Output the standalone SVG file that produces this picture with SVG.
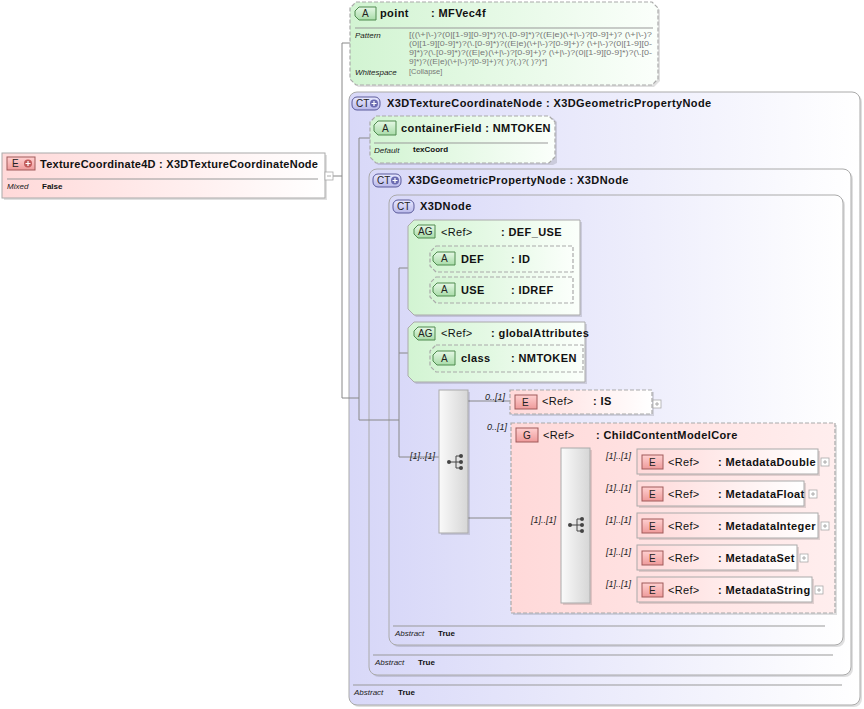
<svg xmlns="http://www.w3.org/2000/svg" width="864" height="709" viewBox="0 0 864 709">
<style>
text{font-family:"Liberation Sans",Arial,sans-serif;fill:#111}
.t{font-size:11px;font-weight:bold;letter-spacing:0.4px}
.r{font-size:11px;font-weight:bold;letter-spacing:0.25px}
.n{font-size:11px;letter-spacing:0.3px}
.k{font-size:8px;font-style:italic;fill:#222}
.v{font-size:8px;font-weight:bold}
.p{font-size:7.5px;fill:#777}
.m{font-size:9px;font-style:italic;fill:#222}
.bt{font-size:10px;fill:#222}
.sep{stroke:#999;stroke-width:1}
.con{fill:none;stroke:#888;stroke-width:1}
.sh{fill:#000;opacity:0.12}
.attr{stroke:#aaa;stroke-width:1.2;stroke-dasharray:4 2}
.ebox{fill:url(#gPink);stroke:#aaa;stroke-width:1}
.eopt{fill:url(#gPink);stroke:#aaa;stroke-width:1.2;stroke-dasharray:4 2}
.bA{fill:url(#gBadgeA);stroke:#4e8a4e;stroke-width:1}
.bE{fill:url(#gBadgeE);stroke:#a05a5a;stroke-width:1}
.bC{fill:url(#gBadgeC);stroke:#5a5a9a;stroke-width:1}
.ct{fill:url(#gLav);stroke:#aaa;stroke-width:1}
.seq{fill:url(#gSeq);stroke:#aaa;stroke-width:1}
.ic{fill:#fff;stroke:#aaa;stroke-width:0.8}
.icl{stroke:#999;stroke-width:0.8}
</style>
<defs>
<linearGradient id="gPink" x1="0" y1="0" x2="1" y2="0"><stop offset="0" stop-color="#ffd9d9"/><stop offset="1" stop-color="#ffffff"/></linearGradient>
<linearGradient id="gGroup" x1="0" y1="0" x2="1" y2="0"><stop offset="0" stop-color="#ffd9d9"/><stop offset="1" stop-color="#ffeeee"/></linearGradient>
<linearGradient id="gGreen" x1="0" y1="0" x2="1" y2="0"><stop offset="0" stop-color="#d2f4d2"/><stop offset="1" stop-color="#fbfffb"/></linearGradient>
<linearGradient id="gLav" x1="0" y1="0" x2="1" y2="0"><stop offset="0" stop-color="#d8d8f8"/><stop offset="1" stop-color="#ffffff"/></linearGradient>
<linearGradient id="gSeq" x1="0" y1="0" x2="1" y2="0"><stop offset="0" stop-color="#fafafa"/><stop offset="1" stop-color="#d6d6d6"/></linearGradient>
<linearGradient id="gBadgeA" x1="0" y1="0" x2="0" y2="1"><stop offset="0" stop-color="#e6f8e6"/><stop offset="1" stop-color="#a8dca8"/></linearGradient>
<linearGradient id="gBadgeE" x1="0" y1="0" x2="0" y2="1"><stop offset="0" stop-color="#ffd0d0"/><stop offset="1" stop-color="#ee9a9a"/></linearGradient>
<linearGradient id="gBadgeC" x1="0" y1="0" x2="0" y2="1"><stop offset="0" stop-color="#e8e8ff"/><stop offset="1" stop-color="#b8b8ea"/></linearGradient>
<g id="plusIcon"><rect class="ic" x="0" y="0" width="8" height="8"/><path class="icl" d="M2 4H6M4 2V6"/></g>
<g id="seqIcon" fill="#444" stroke="#444" stroke-width="1"><circle cx="0" cy="0" r="2" stroke="none"/><path d="M0 0H7M7 -6V6M7 -6H12M7 0H12M7 6H12" fill="none"/><circle cx="12" cy="-6" r="2" stroke="none"/><circle cx="12" cy="0" r="2" stroke="none"/><circle cx="12" cy="6" r="2" stroke="none"/></g>
</defs>

<!-- containers -->
<g id="ct-X3DTextureCoordinateNode">
<rect class="sh" x="351" y="94" width="511" height="613" rx="8"/>
<rect class="ct" x="349" y="92" width="511" height="613" rx="8"/>
<rect class="bC" x="352" y="97" width="28" height="13" rx="5"/>
<text x="356" y="107" class="bt">CT</text>
<circle cx="374" cy="103.5" r="4" fill="#6a6ab0"/><path d="M371.5 103.5H376.5M374 101V106" stroke="#fff" stroke-width="1.2"/>
<text x="387" y="107" class="t">X3DTextureCoordinateNode : X3DGeometricPropertyNode</text>
<line class="sep" x1="353" y1="685" x2="842" y2="685"/>
<text x="354" y="695" class="k">Abstract</text>
<text x="398" y="695" class="v">True</text>
</g>

<g id="ct-X3DGeometricPropertyNode">
<rect class="sh" x="371" y="171" width="482" height="506" rx="8"/>
<rect class="ct" x="369" y="169" width="482" height="506" rx="8"/>
<rect class="bC" x="373" y="174" width="28" height="13" rx="5"/>
<text x="377" y="184" class="bt">CT</text>
<circle cx="395" cy="180.5" r="4" fill="#6a6ab0"/><path d="M392.5 180.5H397.5M395 178V183" stroke="#fff" stroke-width="1.2"/>
<text x="408" y="184" class="t">X3DGeometricPropertyNode : X3DNode</text>
<line class="sep" x1="373" y1="655" x2="833" y2="655"/>
<text x="375" y="665" class="k">Abstract</text>
<text x="418" y="665" class="v">True</text>
</g>

<g id="ct-X3DNode">
<rect class="sh" x="391" y="197" width="454" height="450" rx="8"/>
<rect class="ct" x="389" y="195" width="454" height="450" rx="8"/>
<rect class="bC" x="393" y="200" width="21" height="13" rx="5"/>
<text x="397" y="210" class="bt">CT</text>
<text x="420" y="210" class="t">X3DNode</text>
<line class="sep" x1="393" y1="626" x2="825" y2="626"/>
<text x="395" y="636" class="k">Abstract</text>
<text x="438" y="636" class="v">True</text>
</g>

<!-- connectors -->
<g id="connectors" class="con">
<path d="M333 176H342"/>
<path d="M342 43V398"/>
<path d="M342 43H350"/>
<path d="M342 398H359"/>
<path d="M359 138V420"/>
<path d="M359 138H370"/>
<path d="M359 420H399"/>
<path d="M399 268V457"/>
<path d="M399 268H420"/>
<path d="M420 259V290"/>
<path d="M420 259H431"/>
<path d="M420 290H431"/>
<path d="M399 353H409"/>
<path d="M409 359H431"/>
<path d="M399 457H439"/>
<path d="M468 401H510"/>
<path d="M468 518H511"/>
<path d="M511 519H561"/>
<path d="M590 462H637"/>
<path d="M590 494H637"/>
<path d="M590 526H637"/>
<path d="M590 558H637"/>
<path d="M590 590H637"/>
</g>

<!-- root element -->
<g id="TextureCoordinate4D">
<rect class="sh" x="4" y="155" width="323" height="45"/>
<rect x="2" y="153" width="323" height="45" fill="url(#gPink)" stroke="#aaa"/>
<rect class="bE" x="7" y="157" width="28" height="13"/>
<text x="12" y="167" class="bt">E</text>
<circle cx="28" cy="163.5" r="4" fill="#c05a5a"/><path d="M25.5 163.5H30.5M28 161V166" stroke="#fff" stroke-width="1.2"/>
<text x="40" y="168" class="r" fill="#333">TextureCoordinate4D : X3DTextureCoordinateNode</text>
<line class="sep" x1="7" y1="179" x2="318" y2="179"/>
<text x="7" y="189" class="k">Mixed</text>
<text x="42" y="189" class="v">False</text>
<rect class="ic" x="325" y="172" width="8" height="8"/>
<path class="icl" d="M327 176H331"/>
</g>

<!-- point attribute -->
<g id="attr-point">
<polygon class="sh" points="358,4 654,4 660,10 660,81 654,87 358,87 352,81 352,10"/>
<polygon class="attr" fill="url(#gGreen)" points="356,2 652,2 658,8 658,79 652,85 356,85 350,79 350,8"/>
<path class="bA" d="M359 7H376V20H359L355 16V11Z"/>
<text x="362" y="17" class="bt">A</text>
<text x="380" y="17" class="t">point</text>
<text x="431" y="17" class="t">: MFVec4f</text>
<line class="sep" x1="355" y1="28" x2="653" y2="28"/>
<text x="355" y="38" class="k">Pattern</text>
<text x="409" y="37" class="p" textLength="243" lengthAdjust="spacingAndGlyphs">[((\+|\-)?(0|[1-9][0-9]*)?(\.[0-9]*)?((E|e)(\+|\-)?[0-9]+)? (\+|\-)?</text>
<text x="409" y="46" class="p" textLength="243" lengthAdjust="spacingAndGlyphs">(0|[1-9][0-9]*)?(\.[0-9]*)?((E|e)(\+|\-)?[0-9]+)? (\+|\-)?(0|[1-9][0-</text>
<text x="409" y="55" class="p" textLength="243" lengthAdjust="spacingAndGlyphs">9]*)?(\.[0-9]*)?((E|e)(\+|\-)?[0-9]+)? (\+|\-)?(0|[1-9][0-9]*)?(\.[0-</text>
<text x="409" y="64" class="p" textLength="138" lengthAdjust="spacingAndGlyphs">9]*)?((E|e)(\+|\-)?[0-9]+)?( )?(,)?( )?)*]</text>
<text x="355" y="75" class="k">Whitespace</text>
<text x="409" y="74" class="p">[Collapse]</text>
</g>

<!-- containerField -->
<g id="attr-containerField">
<polygon class="sh" points="378,118 553,118 557,122 557,163 553,165 378,165 372,159 372,124"/>
<polygon class="attr" fill="url(#gGreen)" points="376,116 549,116 555,122 555,157 549,163 376,163 370,157 370,122"/>
<path class="bA" d="M378 121H396V135H378L374 131V125Z"/>
<text x="382" y="132" class="bt">A</text>
<text x="401" y="132" class="t">containerField : NMTOKEN</text>
<line class="sep" x1="374" y1="143" x2="548" y2="143"/>
<text x="374" y="153" class="k">Default</text>
<text x="413" y="152" class="v" font-weight="normal">texCoord</text>
</g>

<!-- DEF_USE attribute group -->
<g id="ag-DEF_USE">
<polygon class="sh" points="416,222 582,222 582,317 416,317 410,311 410,228"/>
<polygon fill="url(#gGreen)" stroke="#aaa" points="414,220 580,220 580,315 414,315 408,309 408,226"/>
<path class="bA" d="M418 225H435V238H418L414 234V229Z"/>
<text x="418" y="235" class="bt">AG</text>
<text x="441" y="236" class="n">&lt;Ref&gt;</text>
<text x="501" y="236" class="t">: DEF_USE</text>
</g>
<g id="attr-DEF">
<polygon class="attr" fill="url(#gGreen)" points="436,246 573,246 573,272 436,272 430,266 430,252"/>
<path class="bA" d="M437 252H455V265H437L433 261V256Z"/>
<text x="441" y="262" class="bt">A</text>
<text x="461" y="263" class="t">DEF</text>
<text x="511" y="263" class="t">: ID</text>
</g>
<g id="attr-USE">
<polygon class="attr" fill="url(#gGreen)" points="436,277 573,277 573,303 436,303 430,297 430,283"/>
<path class="bA" d="M437 283H455V296H437L433 292V287Z"/>
<text x="441" y="293" class="bt">A</text>
<text x="461" y="294" class="t">USE</text>
<text x="511" y="294" class="t">: IDREF</text>
</g>

<!-- globalAttributes attribute group -->
<g id="ag-globalAttributes">
<polygon class="sh" points="416,324 587,324 587,384 416,384 410,378 410,330"/>
<polygon fill="url(#gGreen)" stroke="#aaa" points="414,322 585,322 585,382 414,382 408,376 408,328"/>
<path class="bA" d="M418 327H435V340H418L414 336V331Z"/>
<text x="418" y="337" class="bt">AG</text>
<text x="441" y="337" class="n">&lt;Ref&gt;</text>
<text x="491" y="337" class="t">: globalAttributes</text>
</g>
<g id="attr-class">
<polygon class="attr" fill="url(#gGreen)" points="436,345 583,345 583,372 436,372 430,366 430,351"/>
<path class="bA" d="M437 351H455V365H437L433 361V355Z"/>
<text x="441" y="362" class="bt">A</text>
<text x="461" y="362" class="t">class</text>
<text x="511" y="362" class="t">: NMTOKEN</text>
</g>

<!-- sequence compositor -->
<g id="sequence-1">
<rect class="sh" x="441" y="392" width="29" height="143"/>
<rect class="seq" x="439" y="390" width="29" height="143"/>
<use href="#seqIcon" x="449" y="462"/>
</g>

<!-- IS -->
<g id="el-IS">
<rect class="sh" x="512" y="392" width="142" height="24"/>
<rect class="eopt" x="510" y="390" width="142" height="24"/>
<rect class="bE" x="515" y="395" width="22" height="14"/>
<text x="522" y="406" class="bt">E</text>
<text x="542" y="405" class="n">&lt;Ref&gt;</text>
<text x="593" y="405" class="t">: IS</text>
<use href="#plusIcon" x="653" y="400"/>
</g>

<!-- ChildContentModelCore group -->
<g id="grp-ChildContentModelCore">
<rect class="sh" x="513" y="425" width="324" height="190"/>
<rect x="511" y="423" width="324" height="190" fill="url(#gGroup)" stroke="#aaa" stroke-width="1.2" stroke-dasharray="4 2"/>
<rect class="bE" x="516" y="428" width="22" height="14"/>
<text x="523" y="439" class="bt">G</text>
<text x="543" y="439" class="n">&lt;Ref&gt;</text>
<text x="596" y="439" class="t">: ChildContentModelCore</text>
</g>
<g id="sequence-2">
<rect class="sh" x="563" y="450" width="29" height="155"/>
<rect class="seq" x="561" y="448" width="29" height="155"/>
<use href="#seqIcon" x="570" y="525"/>
</g>

<g id="el-MetadataDouble">
<rect class="sh" x="639" y="451" width="181" height="25"/>
<rect class="ebox" x="637" y="449" width="181" height="25"/>
<rect class="bE" x="642" y="455" width="21" height="14"/>
<text x="649" y="466" class="bt">E</text>
<text x="668" y="466" class="n">&lt;Ref&gt;</text>
<text x="718" y="466" class="t">: MetadataDouble</text>
<use href="#plusIcon" x="821" y="458"/>
</g>
<g id="el-MetadataFloat">
<rect class="sh" x="639" y="483" width="167" height="25"/>
<rect class="ebox" x="637" y="481" width="167" height="25"/>
<rect class="bE" x="642" y="487" width="21" height="14"/>
<text x="649" y="498" class="bt">E</text>
<text x="668" y="498" class="n">&lt;Ref&gt;</text>
<text x="718" y="498" class="t">: MetadataFloat</text>
<use href="#plusIcon" x="809" y="490"/>
</g>
<g id="el-MetadataInteger">
<rect class="sh" x="639" y="515" width="181" height="25"/>
<rect class="ebox" x="637" y="513" width="181" height="25"/>
<rect class="bE" x="642" y="519" width="21" height="14"/>
<text x="649" y="530" class="bt">E</text>
<text x="668" y="530" class="n">&lt;Ref&gt;</text>
<text x="718" y="530" class="t">: MetadataInteger</text>
<use href="#plusIcon" x="821" y="522"/>
</g>
<g id="el-MetadataSet">
<rect class="sh" x="639" y="547" width="160" height="25"/>
<rect class="ebox" x="637" y="545" width="160" height="25"/>
<rect class="bE" x="642" y="551" width="21" height="14"/>
<text x="649" y="562" class="bt">E</text>
<text x="668" y="562" class="n">&lt;Ref&gt;</text>
<text x="718" y="562" class="t">: MetadataSet</text>
<use href="#plusIcon" x="800" y="554"/>
</g>
<g id="el-MetadataString">
<rect class="sh" x="639" y="579" width="175" height="25"/>
<rect class="ebox" x="637" y="577" width="175" height="25"/>
<rect class="bE" x="642" y="583" width="21" height="14"/>
<text x="649" y="594" class="bt">E</text>
<text x="668" y="594" class="n">&lt;Ref&gt;</text>
<text x="718" y="594" class="t">: MetadataString</text>
<use href="#plusIcon" x="815" y="586"/>
</g>

<!-- cardinality labels -->
<g id="labels">
<text x="485" y="400" class="m">0..[1]</text>
<text x="487" y="430" class="m">0..[1]</text>
<text x="410" y="459" class="m">[1]..[1]</text>
<text x="531" y="523" class="m">[1]..[1]</text>
<text x="606" y="459" class="m">[1]..[1]</text>
<text x="606" y="491" class="m">[1]..[1]</text>
<text x="606" y="523" class="m">[1]..[1]</text>
<text x="606" y="555" class="m">[1]..[1]</text>
<text x="606" y="587" class="m">[1]..[1]</text>
</g>
</svg>
